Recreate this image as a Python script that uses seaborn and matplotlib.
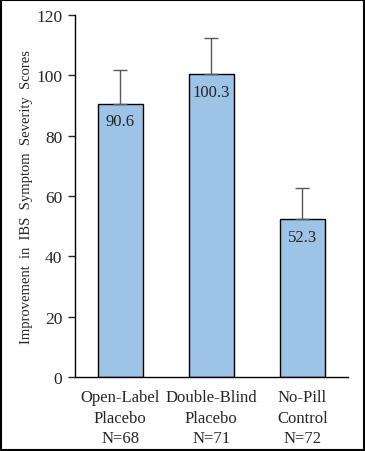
import pandas as pd
import matplotlib.pyplot as plt
import seaborn as sns

groups = ["Open-Label\nPlacebo\nN=68", "Double-Blind\nPlacebo\nN=71", "No-Pill\nControl\nN=72"]
means = [90.6, 100.3, 52.3]
errs = [11.2, 12.0, 10.3]

df = pd.DataFrame({"group": groups, "score": means})

sns.set_style("white")
plt.rcParams["font.family"] = ["Liberation Serif", "DejaVu Serif"]

fig = plt.figure(figsize=(3.65, 4.52), dpi=100)
ax = fig.add_axes([0.205, 0.164, 0.748, 0.801])

sns.barplot(data=df, x="group", y="score", color="#9DC3E6", width=0.49,
            edgecolor="black", linewidth=1, saturation=1, errorbar=None, ax=ax)
ax.errorbar(range(len(means)), means, yerr=[[0] * len(errs), errs], fmt="none",
            ecolor="#595959", elinewidth=1, capsize=5, capthick=1, zorder=1)

for i, v in enumerate(means):
    ax.annotate(f"{v}", (i, v), xytext=(0, -7), textcoords="offset points",
                ha="center", va="top", fontsize=12)

ax.set_ylim(0, 120)
ax.set_xlim(-0.5, 2.5)
ax.set_yticks(range(0, 121, 20))
ax.set_xlabel("")
ax.set_ylabel("Improvement  in  IBS  Symptom  Severity  Scores", fontsize=10.5, labelpad=2)
ax.tick_params(axis="y", direction="out", length=5, width=1, left=True, labelsize=12.5, pad=4)
ax.tick_params(axis="x", length=0, labelsize=12, pad=9)
for lbl in ax.get_xticklabels():
    lbl.set_linespacing(1.35)
for s in ["top", "right"]:
    ax.spines[s].set_visible(False)
for s in ["left", "bottom"]:
    ax.spines[s].set_color("black")
    ax.spines[s].set_linewidth(1)

fig.patches.append(plt.Rectangle((0.002, 0.002), 0.996, 0.996, transform=fig.transFigure,
                                 fill=False, edgecolor="black", linewidth=1.5))

fig.savefig("out.png", dpi=100)
